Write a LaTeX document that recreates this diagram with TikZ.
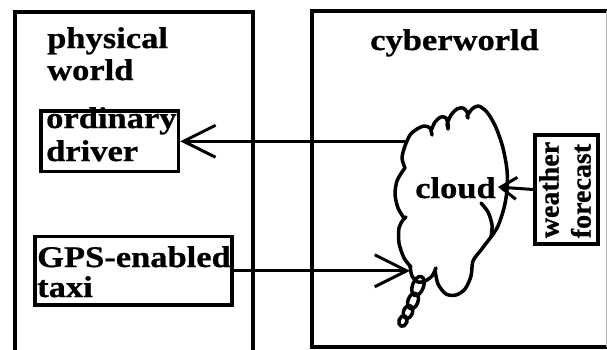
\documentclass[tikz,border=0pt]{standalone}
\usepackage{fontspec}
\setmainfont{Liberation Serif}[FakeStretch=1.15, BoldFeatures={FakeBold=0.8}]
\newfontfamily\upfont{Liberation Serif}[BoldFeatures={FakeBold=0.8}]
\usetikzlibrary{arrows.meta}
\begin{document}
\begin{tikzpicture}[x=1pt,y=-1pt,
  frame/.style={line width=4pt},
  box/.style={draw, line width=3.5pt, inner sep=0pt},
  lbl/.style={inner sep=0pt, anchor=base west, align=left,
    font=\bfseries\fontsize{30}{32}\selectfont},
  link/.style={line width=3pt, -{Straight Barb[length=32pt,width=32pt]}},
  cloudline/.style={line width=3.5pt, line join=round, line cap=round}]
\useasboundingbox (0,0) rectangle (607,349);
\clip (0,0) rectangle (607,349);

% the two worlds
\draw[frame] (14.5,360) -- (14.5,11.5) -- (253,11.5) -- (253,360);
\draw[frame] (620,10.5) -- (312,10.5) -- (312,347) -- (620,347);
\draw[gray!60, line width=0.8pt] (606,10.5) -- (606,347);

% multi-line labels are placed by the baseline of their last line
\node[lbl] (phys) at (47,80) {physical\\world};
\node[lbl] (cyber) at (370,50) {cyberworld};

% boxes
\node[box, minimum width=137.5pt, minimum height=60.5pt] (ordbox) at (109.75,141.25) {};
\node[lbl, font=\bfseries\fontsize{30}{33}\selectfont] (ordtxt) at (46,161) {ordinary\\driver};
\node[box, minimum width=197pt, minimum height=68.5pt] (gpsbox) at (133.5,270.75) {};
\node[lbl, font=\bfseries\fontsize{30}{30}\selectfont] (gpstxt) at (37,297) {GPS-enabled\\taxi};
\node[box, minimum width=63pt, minimum height=109pt] (wfbox) at (566.5,189.5) {};
\node[inner sep=0pt, rotate=90, align=left,
  font=\upfont\bfseries\fontsize{28}{32}\selectfont] (wftxt) at (565,190) {weather\\forecast};

% the cloud
\draw[cloudline]
  plot[smooth] coordinates {(405,168) (402,158) (405,146) (410,135) (417,129) (424,126) (430,128) (432,135)}
  -- plot[smooth] coordinates {(431,131) (435,122) (441,117) (446,118) (448,124) (448,129)}
  -- plot[smooth] coordinates {(447,124) (451,115) (457,109) (463,108) (467,112) (468,118)}
  -- plot[smooth] coordinates {(467,116) (472,109) (478,106) (485,110) (491,118) (497,130) (503,148) (507,170) (507,190) (504,208) (498,226) (491,237)}
  -- plot[smooth] coordinates {(491,237) (481,250) (473,261) (471,276) (465,289) (456,295) (446,294) (438,284) (435,270)}
  -- plot[smooth] coordinates {(436,268) (432,276) (425,281) (418,282) (412,276) (410,266)}
  -- plot[smooth] coordinates {(411,267) (404,258) (399,243) (399,228) (403,220) (406,217)}
  -- plot[smooth] coordinates {(404,218) (398,208) (395,194) (397,181) (402,172) (405,168)}
  -- cycle;
\draw[cloudline] plot[smooth] coordinates {(481,203) (488,212) (492,225) (491,237)};
\draw[cloudline, rotate around={-20:(418,286)}] (418,286) ellipse [x radius=5.5pt, y radius=10pt];
\draw[cloudline, rotate around={-20:(413,301)}] (413,301) ellipse [x radius=5pt, y radius=8pt];
\draw[cloudline, rotate around={-20:(408,312)}] (408,312) ellipse [x radius=4.5pt, y radius=6.5pt];
\draw[cloudline, rotate around={-20:(403,321)}] (403,321) ellipse [x radius=4pt, y radius=5.5pt];
\node[lbl] (cloudtxt) at (415,198) {cloud};

% connectors
\coordinate (cloudW) at (405,141.25);
\coordinate (cloudGPS) at (410,270.75);
\coordinate (cloudE) at (498,187);
\draw[link] (cloudW) -- (ordbox.east);
\draw[link] (gpsbox.east) -- (cloudGPS);
\draw[line width=3pt, -{Straight Barb[length=16pt,width=22pt]}] (wfbox.west) -- (cloudE);
\end{tikzpicture}
\end{document}
